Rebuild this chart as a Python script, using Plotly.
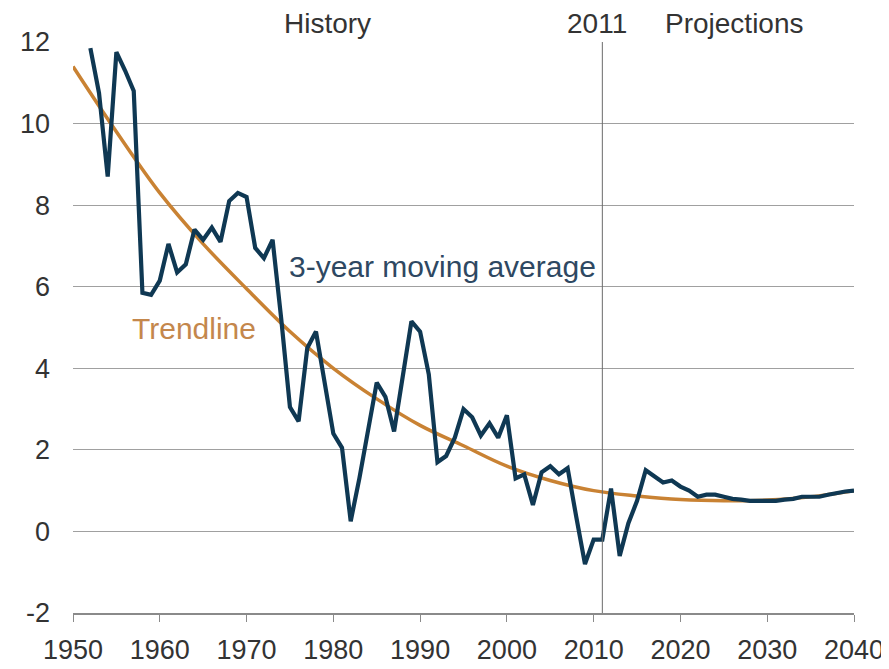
import plotly.graph_objects as go

# 3-year moving average (history + projections)
ma_years = list(range(1952, 2041))
ma_values = [
    11.85, 10.75, 8.7, 11.75, 11.3, 10.8, 5.85, 5.8, 6.15, 7.05,   # 1952-1961
    6.35, 6.55, 7.4, 7.15, 7.45, 7.1, 8.1, 8.3, 8.2, 6.95,          # 1962-1971
    6.7, 7.15, 5.2, 3.05, 2.7, 4.5, 4.9, 3.7, 2.4, 2.05,            # 1972-1981
    0.25, 1.3, 2.45, 3.65, 3.3, 2.45, 3.8, 5.15, 4.9, 3.85,         # 1982-1991
    1.7, 1.85, 2.3, 3.0, 2.8, 2.35, 2.65, 2.3, 2.85, 1.3,           # 1992-2001
    1.4, 0.65, 1.45, 1.6, 1.4, 1.55, 0.35, -0.8, -0.2, -0.2,        # 2002-2011
    1.05, -0.6, 0.2, 0.75, 1.5, 1.35, 1.2, 1.25, 1.1, 1.0,          # 2012-2021
    0.85, 0.9, 0.9, 0.85, 0.8, 0.78, 0.75, 0.75, 0.75, 0.75,        # 2022-2031
    0.78, 0.8, 0.85, 0.85, 0.85, 0.9, 0.95, 0.98, 1.0               # 2032-2040
]

# Trendline
trend_years = [1950, 1955, 1960, 1965, 1970, 1975, 1980, 1985, 1990, 1995,
               2000, 2005, 2010, 2015, 2020, 2025, 2030, 2035, 2040]
trend_values = [11.4, 9.8, 8.3, 7.05, 5.95, 4.9, 4.0, 3.25, 2.6, 2.1,
                1.6, 1.25, 1.0, 0.87, 0.78, 0.75, 0.77, 0.85, 1.0]

x_ticks = list(range(1950, 2041, 10))
y_ticks = list(range(-2, 13, 2))

BLUE = "#0f3853"
ORANGE = "#c98233"
FONT = "Liberation Sans, Arial, sans-serif"
TXT = "#333333"

# page has an 8px body margin; size the figure so it fills the window
OFF = 8
W, H = 889 - OFF, 669 - OFF
L, R, T, B = 73 - OFF, 35, 42 - OFF, 56
pw, ph = W - L - R, H - T - B

fig = go.Figure()
fig.add_trace(go.Scatter(x=trend_years, y=trend_values, mode="lines",
                         line=dict(color=ORANGE, width=3.5, shape="spline"),
                         showlegend=False, hoverinfo="skip"))
fig.add_trace(go.Scatter(x=ma_years, y=ma_values, mode="lines",
                         line=dict(color=BLUE, width=4.2),
                         showlegend=False, hoverinfo="skip"))

fig.add_shape(type="line", x0=2011, x1=2011, y0=-2, y1=12, xref="x", yref="y",
              line=dict(color="#6a6a6a", width=1))


def px_to_paper(xp, yp):
    return (xp - OFF - L) / pw, (H - B - (yp - OFF)) / ph


for label, xp in [("History", 327), ("2011", 597), ("Projections", 734)]:
    ax, ay = px_to_paper(xp, 24)
    fig.add_annotation(x=ax, y=ay, xref="paper", yref="paper", text=label,
                       showarrow=False, font=dict(size=28, color=TXT, family=FONT),
                       xanchor="center", yanchor="middle")

fig.add_annotation(x=1974.7, y=6.5, xref="x", yref="y", text="3-year moving average",
                   showarrow=False, font=dict(size=30, color="#2e4862", family=FONT),
                   xanchor="left", yanchor="middle")
fig.add_annotation(x=1956.6, y=4.97, xref="x", yref="y", text="Trendline",
                   showarrow=False, font=dict(size=30, color="#c4874c", family=FONT),
                   xanchor="left", yanchor="middle")

fig.update_layout(
    width=W, height=H,
    margin=dict(l=L, r=R, t=T, b=B),
    plot_bgcolor="white", paper_bgcolor="white",
    font=dict(family=FONT, size=27, color=TXT),
    xaxis=dict(range=[1950, 2040], tickvals=x_ticks, ticktext=[str(v) for v in x_ticks],
               showgrid=False, zeroline=False, showline=True, linecolor="#8a8a8a",
               linewidth=1.5, ticks="outside", ticklen=7, tickcolor="#8a8a8a",
               ticklabelstandoff=5,
               tickfont=dict(size=27, color=TXT), automargin=False),
    yaxis=dict(range=[-2, 12], tickvals=y_ticks, ticktext=[str(v) for v in y_ticks],
               showgrid=True, gridcolor="#a0a0a0", gridwidth=1, zeroline=False,
               showline=False, ticks="", ticklabelstandoff=22,
               tickfont=dict(size=27, color=TXT), automargin=False),
)

fig.write_html("out.html")
